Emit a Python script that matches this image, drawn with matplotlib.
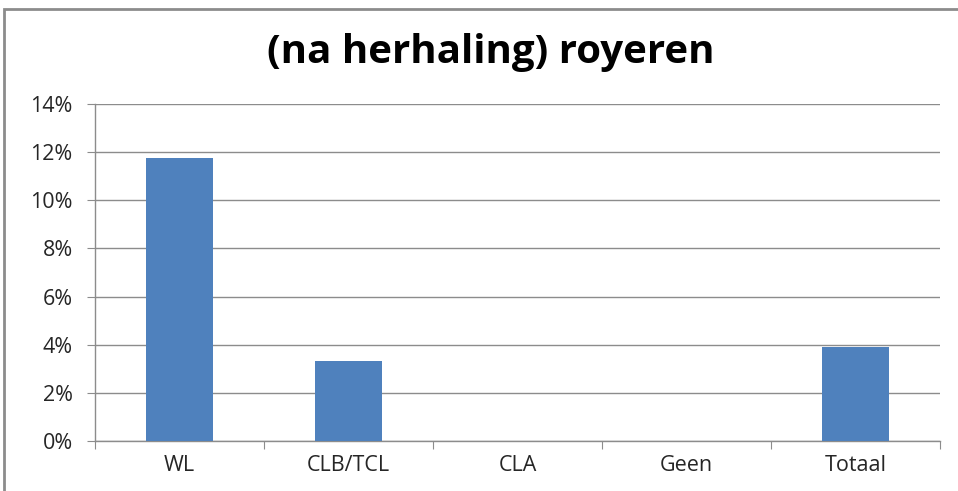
import matplotlib
matplotlib.use("Agg")
import matplotlib.pyplot as plt
from matplotlib.patches import Rectangle
from matplotlib.ticker import FuncFormatter, MultipleLocator

categories = ["WL", "CLB/TCL", "CLA", "Geen", "Totaal"]
values = [0.1175, 0.0332, 0.0, 0.0, 0.0390]
title = "(na herhaling) royeren"

W, H = 958, 491
fig = plt.figure(figsize=(W / 100, H / 100), dpi=100)
fig.patch.set_facecolor("white")

# outer frame
fig.patches.append(Rectangle((4 / W, -0.05), 1.1, 1 - 9 / H + 0.05, transform=fig.transFigure,
                             fill=False, edgecolor="#8c8c8c", linewidth=2))

ax = fig.add_axes([95 / W, 1 - 441 / H, (940 - 95) / W, (441 - 104) / H])
x = list(range(len(categories)))
ax.bar(x, values, width=0.4, color="#4f81bd", linewidth=0, zorder=3)

ax.set_xlim(-0.5, len(categories) - 0.5)
ax.set_ylim(0, 0.14)
ax.yaxis.set_major_locator(MultipleLocator(0.02))
ax.yaxis.set_major_formatter(FuncFormatter(lambda v, p: f"{round(v * 100)}%"))
ax.grid(axis="y", color="#8c8c8c", linewidth=1, zorder=0)
ax.set_axisbelow(True)

ax.set_xticks([i + 0.5 for i in range(-1, len(categories))])
ax.set_xticklabels([])
ax.set_xticks(x, minor=True)
ax.set_xticklabels(categories, minor=True)
ax.tick_params(axis="x", which="major", length=6, color="#8c8c8c", direction="out")
ax.tick_params(axis="x", which="minor", length=0, pad=10, labelsize=15.5, labelcolor="#262626")
ax.tick_params(axis="y", length=6, color="#8c8c8c", labelsize=15.5, labelcolor="#262626", pad=10)
for lab in ax.get_xticklabels(minor=True) + ax.get_yticklabels():
    lab.set_family(["Open Sans", "DejaVu Sans"])

for s in ["top", "right"]:
    ax.spines[s].set_visible(False)
for s in ["left", "bottom"]:
    ax.spines[s].set_color("#8c8c8c")
    ax.spines[s].set_linewidth(1)

fig.text(491 / W, 1 - 52 / H, title, ha="center", va="center", fontsize=29,
         fontweight="bold", family=["Open Sans", "DejaVu Sans"], color="black")

fig.savefig("out.png", dpi=100)
